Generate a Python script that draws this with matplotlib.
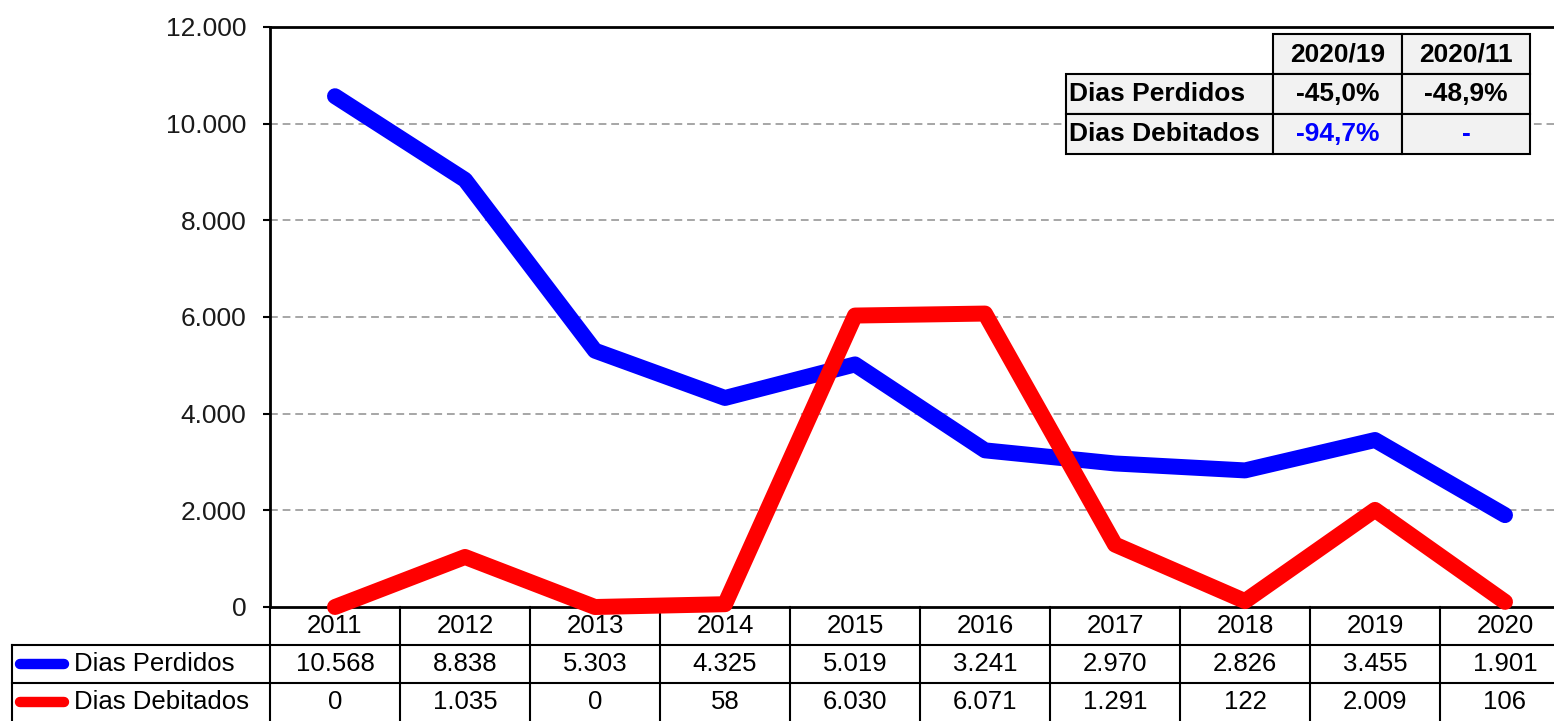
import matplotlib
matplotlib.use("Agg")
import matplotlib.pyplot as plt
from matplotlib import transforms, font_manager
from matplotlib.patches import Rectangle
from matplotlib.ticker import FuncFormatter

plt.rcParams['font.family'] = ['Liberation Sans', 'DejaVu Sans']

# data
years = [2011, 2012, 2013, 2014, 2015, 2016, 2017, 2018, 2019, 2020]
dias_perdidos = [10568, 8838, 5303, 4325, 5019, 3241, 2970, 2826, 3455, 1901]
dias_debitados = [0, 1035, 0, 58, 6030, 6071, 1291, 122, 2009, 106]
series_names = ["Dias Perdidos", "Dias Debitados"]
series_colors = ["#0000ff", "#ff0000"]

# variation table (top right)
var_cols = ["2020/19", "2020/11"]
var_rows = ["Dias Perdidos", "Dias Debitados"]
var_vals = [["-45,0%", "-48,9%"], ["-94,7%", "-"]]
var_colors = [["black", "black"], ["#0000ff", "#0000ff"]]


def fmt(v, pos=None):
    return f"{int(v):,}".replace(",", ".")


# bold Liberation Sans (not the Narrow one)
bold_fp = font_manager.FontProperties(family="Liberation Sans", weight="bold", size=19)
for f in font_manager.fontManager.ttflist:
    if f.name == "Liberation Sans" and f.weight in (700, "bold") and f.style == "normal":
        bold_fp = font_manager.FontProperties(fname=f.fname, size=19)
        break

W, H = 1554, 721
fig = plt.figure(figsize=(W / 100, H / 100), dpi=100)
ax = fig.add_axes([270 / W, (H - 607) / H, 1300 / W, 580 / H])

for vals, col in zip([dias_perdidos, dias_debitados], series_colors):
    ax.plot(years, vals, color=col, lw=11.5, solid_capstyle="round",
            solid_joinstyle="round", clip_on=False, zorder=3)

ax.set_xlim(years[0] - 0.5, years[-1] + 0.5)
ax.set_ylim(0, 12000)
ax.set_yticks(range(0, 12001, 2000))
ax.yaxis.set_major_formatter(FuncFormatter(fmt))
ax.set_xticks([])
for y in range(2000, 12000, 2000):
    ax.axhline(y, color="#a6a6a6", lw=1.4, linestyle=(0, (4, 2.5)), zorder=1)

ax.spines["right"].set_visible(False)
for s in ["left", "top", "bottom"]:
    ax.spines[s].set_linewidth(2)
    ax.spines[s].set_color("black")
ax.tick_params(axis="y", length=5, width=1.5, pad=12, labelsize=19,
               labelcolor="#1a1a1a")

# data table under the chart
rh = 38 / 580
xt = ax.get_xaxis_transform()
blend = transforms.blended_transform_factory(fig.transFigure, ax.transAxes)
lk = dict(color="black", lw=1.5, clip_on=False)

for i, yr in enumerate(years):
    ax.text(yr, -0.5 * rh, str(yr), transform=xt, ha="center", va="center",
            fontsize=18.5, clip_on=False)
    ax.text(yr, -1.5 * rh, fmt(dias_perdidos[i]), transform=xt, ha="center",
            va="center", fontsize=18.5, clip_on=False)
    ax.text(yr, -2.5 * rh, fmt(dias_debitados[i]), transform=xt, ha="center",
            va="center", fontsize=18.5, clip_on=False)

for xb in [years[0] - 0.5] + [y + 0.5 for y in years[:-1]]:
    ax.plot([xb, xb], [0, -3 * rh], transform=xt, **lk)
for k in [1, 2]:
    ax.plot([12 / W, 1.0], [-k * rh, -k * rh], transform=blend, **lk)
ax.plot([12 / W, 12 / W], [-rh, -3 * rh], transform=blend, **lk)

for k, (name, col) in enumerate(zip(series_names, series_colors)):
    yc = -(1.5 + k) * rh
    ax.plot([20 / W, 64 / W], [yc, yc], transform=blend, color=col, lw=7.5,
            solid_capstyle="round", clip_on=False)
    ax.text(74 / W, yc, name, transform=blend, ha="left", va="center",
            fontsize=18.5, clip_on=False)

# variation table in the top right corner
def ax_x(px):
    return (px - 270) / 1300


def ax_y(py):
    return (607 - py) / 580


col_edges = [1066, 1273, 1402, 1530]
row_edges = [34, 74, 114, 154]
tk = dict(transform=ax.transAxes, fontproperties=bold_fp, va="center", zorder=6)


def cell(c, r):
    x0, x1 = ax_x(col_edges[c]), ax_x(col_edges[c + 1])
    y0, y1 = ax_y(row_edges[r + 1]), ax_y(row_edges[r])
    ax.add_patch(Rectangle((x0, y0), x1 - x0, y1 - y0, transform=ax.transAxes,
                           facecolor="#f2f2f2", edgecolor="black", lw=1.5,
                           zorder=5))
    return (x0 + x1) / 2, (y0 + y1) / 2, x0


for j, name in enumerate(var_cols):
    cx, cy, _ = cell(j + 1, 0)
    ax.text(cx, cy, name, ha="center", color="black", **tk)
for i, name in enumerate(var_rows):
    cx, cy, x0 = cell(0, i + 1)
    ax.text(x0 + 3 / 1300, cy, name, ha="left", color="black", **tk)
    for j in range(2):
        cx, cy, _ = cell(j + 1, i + 1)
        ax.text(cx, cy, var_vals[i][j], ha="center", color=var_colors[i][j], **tk)

fig.savefig("out.png", dpi=100)
